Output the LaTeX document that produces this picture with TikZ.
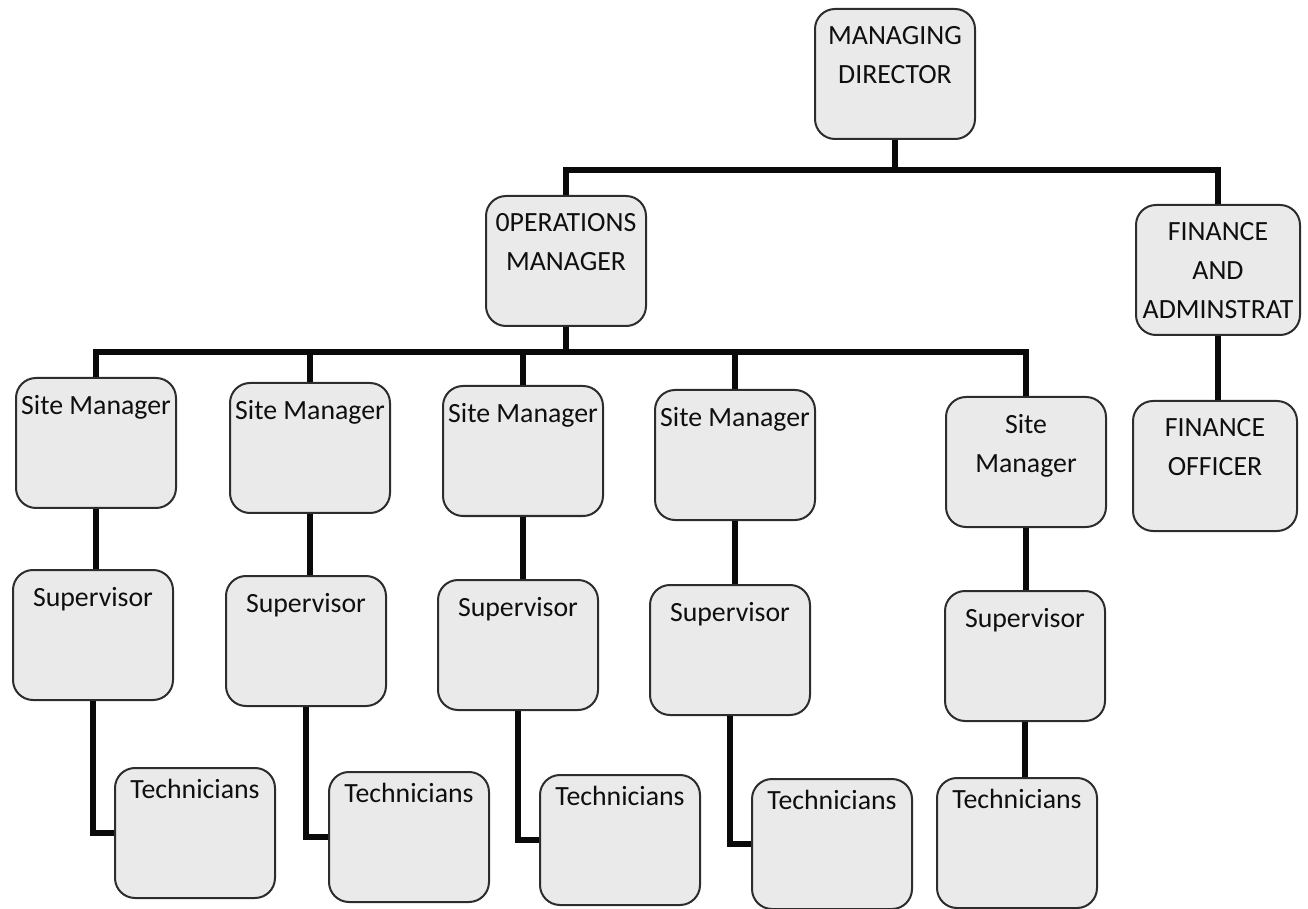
\documentclass[tikz,border=0pt]{standalone}
\usepackage{fontspec}
\setmainfont{Carlito}
\usepackage{xcolor}
\usepackage{tikz}
\usetikzlibrary{positioning,calc}
\definecolor{orgFill}{RGB}{234,234,234}
\definecolor{orgEdge}{RGB}{45,45,45}
\definecolor{orgInk}{RGB}{15,15,15}
\definecolor{orgLink}{RGB}{10,10,10}
\tikzset{
  orgbox/.style={draw=orgEdge,line width=1pt,fill=orgFill,rounded corners=10pt,
    minimum width=80pt,minimum height=65pt,inner sep=0pt},
  orgtext/.style={font=\fontsize{13.9}{19.5}\selectfont,text=orgInk,align=center,
    anchor=north,inner sep=0pt,yshift=-9pt},
  orglink/.style={draw=orgLink,line width=2.8pt},
}

\begin{document}
\begin{tikzpicture}[x=0.5pt,y=-0.5pt]
  \useasboundingbox (0,0) rectangle (1308,909);
  \coordinate (mdbus) at (0,170);
  \coordinate (opsbus) at (0,352);

  % Top of the chart.
  \node[orgbox] (md)  at (895,74)  {};
  \node[orgbox] (ops) at (566,261) {};
  \node[orgbox,minimum width=82pt] (fa) at (1218,270) {};
  \node[orgbox,minimum width=82pt] (fo) at (1215,466) {};

  % Site managers, supervisors and technicians.
  \node[orgbox] (sm1) at (96,443)   {};
  \node[orgbox] (sm2) at (310,448)  {};
  \node[orgbox] (sm3) at (523,451)  {};
  \node[orgbox] (sm4) at (735,455)  {};
  \node[orgbox] (sm5) at (1026,462) {};
  \node[orgbox] (sv1) at (93,635)   {};
  \node[orgbox] (sv2) at (306,641)  {};
  \node[orgbox] (sv3) at (518,645)  {};
  \node[orgbox] (sv4) at (730,650)  {};
  \node[orgbox] (sv5) at (1025,656) {};
  \node[orgbox] (te1) at (195,833)  {};
  \node[orgbox] (te2) at (409,837)  {};
  \node[orgbox] (te3) at (620,840)  {};
  \node[orgbox] (te4) at (832,844)  {};
  \node[orgbox] (te5) at (1017,843) {};

  % Box texts sit near the top edge.
  \node[orgtext] (mdt)  at (md.north)  {MANAGING\\DIRECTOR};
  \node[orgtext] (opst) at (ops.north) {0PERATIONS\\MANAGER};
  \node[orgtext] (fat)  at (fa.north)  {FINANCE\\AND\\ADMINSTRAT};
  \node[orgtext] (fot)  at (fo.north)  {FINANCE\\OFFICER};
  \foreach \i in {1,2,3,4}
    \node[orgtext] (sm\i t) at (sm\i.north) {Site Manager};
  \node[orgtext] (sm5t) at (sm5.north) {Site\\Manager};
  \foreach \i in {1,...,5}
    \node[orgtext] (sv\i t) at (sv\i.north) {Supervisor};
  \foreach \i in {1,...,5}
    \node[orgtext,yshift=3pt] (te\i t) at (te\i.north) {Technicians};

  % Connectors.
  \draw[orglink] (md.south) -- (md.south |- mdbus);
  \draw[orglink] (ops.north) -- (ops.north |- mdbus) -- (fa.north |- mdbus) -- (fa.north);
  \draw[orglink] (fa.south) -- (fa.south |- fo.north);
  \draw[orglink] (ops.south) -- (ops.south |- opsbus);
  \draw[orglink] (sm1.north) -- (sm1.north |- opsbus) -- (sm5.north |- opsbus) -- (sm5.north);
  \foreach \i in {2,3,4}
    \draw[orglink] (sm\i.north) -- (sm\i.north |- opsbus);
  \foreach \i in {1,...,5}
    \draw[orglink] (sm\i.south) -- (sm\i.south |- sv\i.north);
  \foreach \i in {1,...,4}
    \draw[orglink] (sv\i.south) |- (te\i.west);
  \draw[orglink] (sv5.south) -- (sv5.south |- te5.north);
\end{tikzpicture}
\end{document}
